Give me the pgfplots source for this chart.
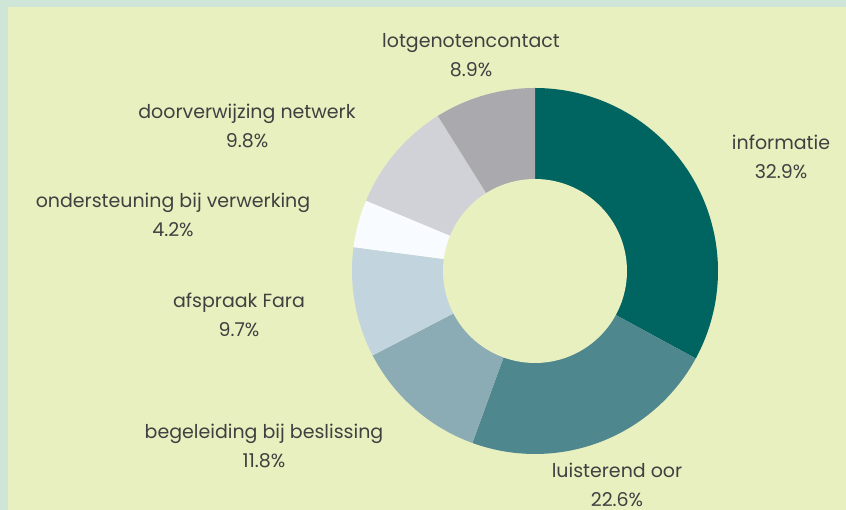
\documentclass[border=0pt]{standalone}
\usepackage{pgfplots}
\pgfplotsset{compat=1.18}
\usepackage{fontspec}
\setmainfont{Poppins}

\definecolor{frame}{HTML}{CFE5D8}
\definecolor{bg}{HTML}{E9F0C0}
\definecolor{txt}{HTML}{404040}
\definecolor{cInfo}{HTML}{006461}
\definecolor{cLuis}{HTML}{4F878F}
\definecolor{cBege}{HTML}{8BABB5}
\definecolor{cAfsp}{HTML}{C2D4DE}
\definecolor{cOnde}{HTML}{F8FBFF}
\definecolor{cDoor}{HTML}{D0D2D8}
\definecolor{cLotg}{HTML}{A9A9AE}

% donut: centre (535,239), outer radius 183, inner radius 92 (pixel units)
\newcommand\ang[1]{(90-360*#1/99.9)}

\begin{document}
\begin{tikzpicture}
\begin{axis}[
    width=846pt, height=510pt, scale only axis,
    xmin=0, xmax=846, ymin=0, ymax=510,
    hide axis, clip=true,
    samples=80, variable=\t,
  ]
  % background
  \fill[frame] (0,0) rectangle (846,510);
  \fill[bg] (8,0) rectangle (846,503);

  % slices, cumulative shares in %, clockwise from the top
  \addplot[fill=cInfo, draw=none, domain=0:32.9]
    ({535+183*cos\ang{t}}, {239+183*sin\ang{t}}) -- (535,239) -- cycle;
  \addplot[fill=cLuis, draw=none, domain=32.9:55.5]
    ({535+183*cos\ang{t}}, {239+183*sin\ang{t}}) -- (535,239) -- cycle;
  \addplot[fill=cBege, draw=none, domain=55.5:67.3]
    ({535+183*cos\ang{t}}, {239+183*sin\ang{t}}) -- (535,239) -- cycle;
  \addplot[fill=cAfsp, draw=none, domain=67.3:77.0]
    ({535+183*cos\ang{t}}, {239+183*sin\ang{t}}) -- (535,239) -- cycle;
  \addplot[fill=cOnde, draw=none, domain=77.0:81.2]
    ({535+183*cos\ang{t}}, {239+183*sin\ang{t}}) -- (535,239) -- cycle;
  \addplot[fill=cDoor, draw=none, domain=81.2:91.0]
    ({535+183*cos\ang{t}}, {239+183*sin\ang{t}}) -- (535,239) -- cycle;
  \addplot[fill=cLotg, draw=none, domain=91.0:99.9]
    ({535+183*cos\ang{t}}, {239+183*sin\ang{t}}) -- (535,239) -- cycle;
  % hole
  \addplot[fill=bg, draw=none, domain=0:99.9, samples=120]
    ({535+92*cos\ang{t}}, {239+92*sin\ang{t}}) -- cycle;

  % labels
  \begin{scope}[every node/.style={text=txt, align=center, inner sep=0pt,
      font=\fontsize{19}{29}\selectfont}]
    \node at (471,455) {lotgenotencontact\\8.9\%};
    \node at (247,384) {doorverwijzing netwerk\\9.8\%};
    \node at (781,353) {informatie\\32.9\%};
    \node at (173,295) {ondersteuning bij verwerking\\4.2\%};
    \node at (239,195) {afspraak Fara\\9.7\%};
    \node at (264,64) {begeleiding bij beslissing\\11.8\%};
    \node at (617,25) {luisterend oor\\22.6\%};
  \end{scope}
\end{axis}
\pgfresetboundingbox
\path (current axis.south west) rectangle (current axis.north east);
\end{tikzpicture}
\end{document}
